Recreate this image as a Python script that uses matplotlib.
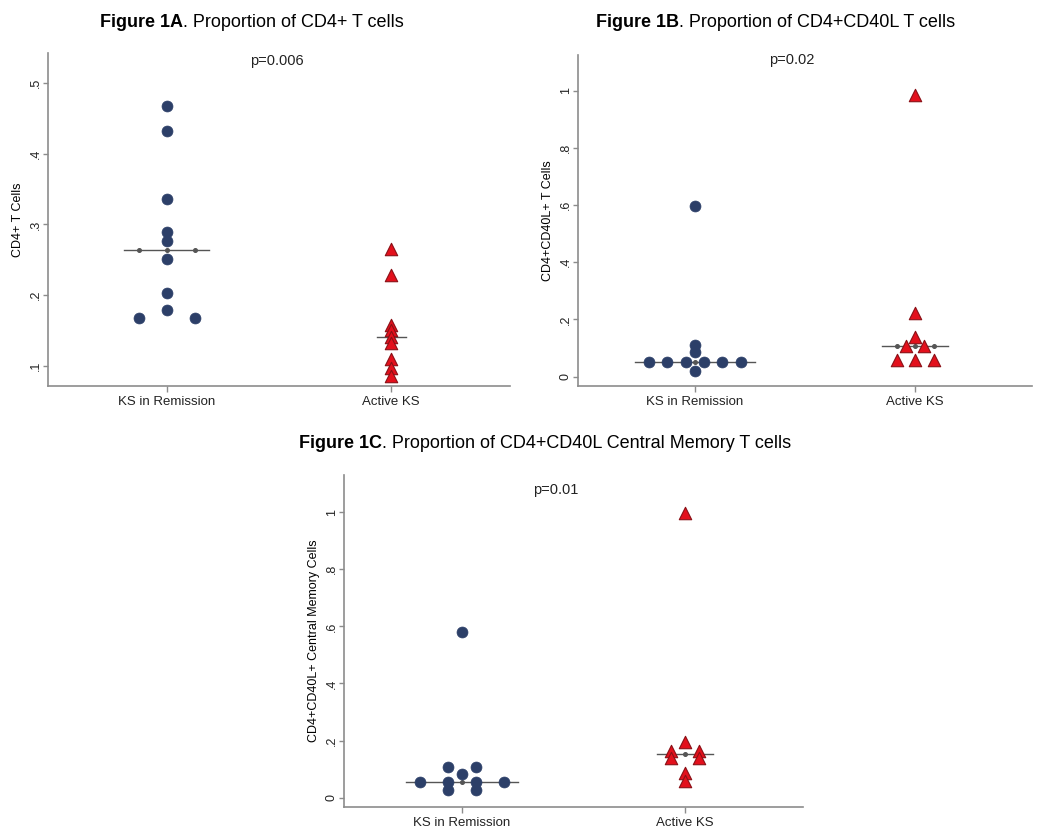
import matplotlib
matplotlib.use("Agg")
import matplotlib.pyplot as plt
import numpy as np

plt.rcParams['font.family'] = ['Liberation Sans', 'DejaVu Sans']

# --- data ---
groups = ["KS in Remission", "Active KS"]

# Figure 1A: CD4+ T cells
a_rem = [0.4675, 0.432, 0.3355, 0.289, 0.276, 0.2515, 0.2034, 0.179, 0.1676, 0.1676]
a_rem_dx = [0, 0, 0, 0, 0, 0, 0, 0, -0.125, 0.125]
a_act = [0.265, 0.229, 0.158, 0.151, 0.141, 0.132, 0.110, 0.098, 0.086]
a_act_dx = [0, 0, 0, 0, 0, 0, 0, 0, 0]

# Figure 1B: CD4+CD40L+ T cells
b_rem = [0.598, 0.110, 0.087, 0.050, 0.050, 0.050, 0.050, 0.050, 0.050, 0.021]
b_rem_dx = [0, 0, 0, -0.208, -0.125, -0.042, 0.042, 0.125, 0.208, 0]
b_act = [0.985, 0.222, 0.140, 0.106, 0.106, 0.058, 0.058, 0.058]
b_act_dx = [0, 0, 0, -0.042, 0.042, -0.085, 0, 0.085]

# Figure 1C: CD4+CD40L+ central memory cells
c_rem = [0.579, 0.109, 0.109, 0.083, 0.054, 0.054, 0.054, 0.054, 0.026, 0.026]
c_rem_dx = [0, -0.0625, 0.0625, 0, -0.1875, -0.0625, 0.0625, 0.1875, -0.0625, 0.0625]
c_act = [0.998, 0.196, 0.165, 0.165, 0.140, 0.140, 0.085, 0.060]
c_act_dx = [0, 0, -0.0625, 0.0625, -0.0625, 0.0625, 0, 0]

a_ticks = [0.1, 0.2, 0.3, 0.4, 0.5]
a_ticklabels = [".1", ".2", ".3", ".4", ".5"]
bc_ticks = [0, 0.2, 0.4, 0.6, 0.8, 1.0]
bc_ticklabels = ["0", ".2", ".4", ".6", ".8", "1"]

NAVY = "#2c3f68"
RED = "#e3101c"
RED_EDGE = "#8a1016"
GRAY = "#8c8c8c"


def median_line(ax, xc, vals, dx):
    med = np.median(vals)
    ux = sorted(set(dx))
    half = max(abs(d) for d in dx) + 0.065
    ax.plot([xc - half, xc + half], [med, med], color="#555555", lw=1.0, zorder=2)
    ax.plot([xc + d for d in ux], [med] * len(ux), ls="none", marker="o",
            ms=2.6, color="#555555", zorder=2)


def draw_panel(ax, rem, rem_dx, act, act_dx, ylim, ticks, ticklabels, ylabel, ptext, px, py):
    median_line(ax, 1, rem, rem_dx)
    median_line(ax, 2, act, act_dx)
    ax.scatter([1 + d for d in rem_dx], rem, s=62, marker="o", color=NAVY,
               edgecolors=NAVY, linewidths=0.5, zorder=3)
    ax.scatter([2 + d for d in act_dx], act, s=80, marker="^", color=RED,
               edgecolors=RED_EDGE, linewidths=0.8, zorder=3)
    ax.set_xlim(0.47, 2.53)
    ax.set_ylim(*ylim)
    ax.set_xticks([1, 2])
    ax.set_xticklabels(groups, fontsize=9.5)
    ax.set_yticks(ticks)
    ax.set_yticklabels(ticklabels, fontsize=9, rotation=90, va="center")
    ax.set_ylabel(ylabel, fontsize=9, labelpad=4)
    for s in ["top", "right"]:
        ax.spines[s].set_visible(False)
    for s in ["left", "bottom"]:
        ax.spines[s].set_color(GRAY)
        ax.spines[s].set_linewidth(1.2)
    ax.tick_params(colors=GRAY, length=4, width=1, labelcolor="#222222")
    ax.tick_params(axis="y", length=3.5, pad=1)
    ax.text(px, py, ptext, fontsize=10.5, ha="center", va="center", color="#222222")


def title(fig, ax, x, y, bold, rest):
    t = fig.text(x, y, bold, fontsize=13, fontweight="bold", ha="left", va="bottom")
    ax.annotate(rest, xy=(1, 0), xycoords=t, fontsize=13, ha="left", va="bottom",
                annotation_clip=False)


fig = plt.figure(figsize=(10.5, 8.38), dpi=100)
axA = fig.add_axes([0.0457, 0.5394, 0.44, 0.3974])
axB = fig.add_axes([0.5505, 0.5394, 0.4324, 0.395])
axC = fig.add_axes([0.3276, 0.0374, 0.4372, 0.3958])

draw_panel(axA, a_rem, a_rem_dx, a_act, a_act_dx, (0.072, 0.542), a_ticks, a_ticklabels,
           "CD4+ T Cells", "p=0.006", 1.49, 0.53)
draw_panel(axB, b_rem, b_rem_dx, b_act, b_act_dx, (-0.0325, 1.125), bc_ticks, bc_ticklabels,
           "CD4+CD40L+ T Cells", "p=0.02", 1.44, 1.107)
draw_panel(axC, c_rem, c_rem_dx, c_act, c_act_dx, (-0.0315, 1.13), bc_ticks, bc_ticklabels,
           "CD4+CD40L+ Central Memory Cells", "p=0.01", 1.42, 1.078)

title(fig, axA, 100 / 1050, 1 - 31 / 838, "Figure 1A", ". Proportion of CD4+ T cells")
title(fig, axB, 596 / 1050, 1 - 31 / 838, "Figure 1B", ". Proportion of CD4+CD40L T cells")
title(fig, axC, 299 / 1050, 1 - 452 / 838, "Figure 1C",
      ". Proportion of CD4+CD40L Central Memory T cells")

fig.savefig("out.png", dpi=100)
